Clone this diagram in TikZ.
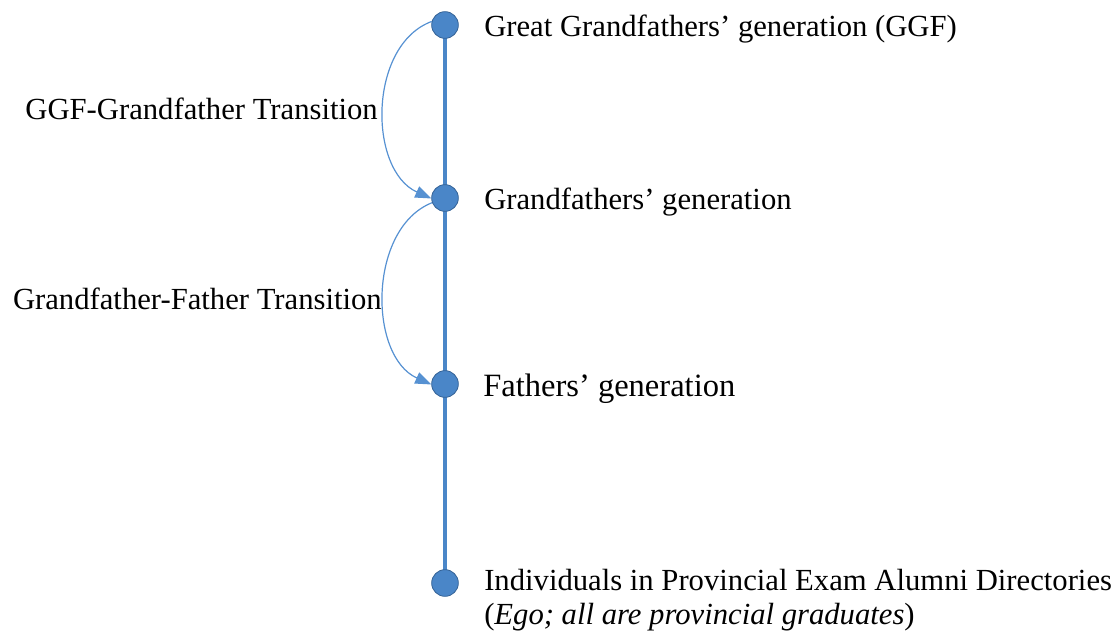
\documentclass[tikz,border=0pt]{standalone}
\usepackage{fontspec}
\setmainfont{Liberation Serif}
\usetikzlibrary{arrows.meta}
\definecolor{nodeblue}{RGB}{74,134,200}
\definecolor{nodeedge}{RGB}{52,98,150}
\definecolor{arrowblue}{RGB}{86,145,210}
\begin{document}
\begin{tikzpicture}[x=0.75pt,y=-0.75pt,
  gen/.style={circle,fill=nodeblue,draw=nodeedge,line width=0.6pt,minimum size=20pt,inner sep=0pt},
  lbl/.style={font=\fontsize{23}{25.5}\selectfont,inner sep=0pt},
  trans/.style={draw=arrowblue,line width=0.9pt,-{Triangle[length=12pt,width=9pt]}},
  spine/.style={draw=nodeblue,line width=3pt}]
\useasboundingbox (0,0) rectangle (1118,631);
\coordinate (c1) at (445,25);
\coordinate (c4) at (445,583);
\path[spine] (c1) -- (c4);
\node[gen] (g1) at (445,25) {};
\node[gen] (g2) at (445,198) {};
\node[gen] (g3) at (445,384) {};
\node[gen] (g4) at (445,583) {};
\node[lbl,anchor=base west] (t1) at (484,37) {Great Grandfathers’ generation (GGF)};
\node[lbl,anchor=base west] (t2) at (484,210) {Grandfathers’ generation};
\node[lbl,anchor=base west,font=\fontsize{24.4}{27}\selectfont] (t3) at (483,396) {Fathers’ generation};
\node[lbl,anchor=base west] (t4) at (484,590) {Individuals in Provincial Exam Alumni Directories};
\node[lbl,anchor=base west] (t5) at (484,624) {(\textit{Ego; all are provincial graduates})};
\draw[trans] (g1.165) .. controls (368,45) and (368,170) .. (g2.182);
\draw[trans] (g2.200) .. controls (368,228) and (368,356) .. (g3.182);
\node[lbl,anchor=base east] (a1) at (378,120) {GGF-Grandfather Transition};
\node[lbl,anchor=base east] (a2) at (382,310) {Grandfather-Father Transition};
\end{tikzpicture}
\end{document}
